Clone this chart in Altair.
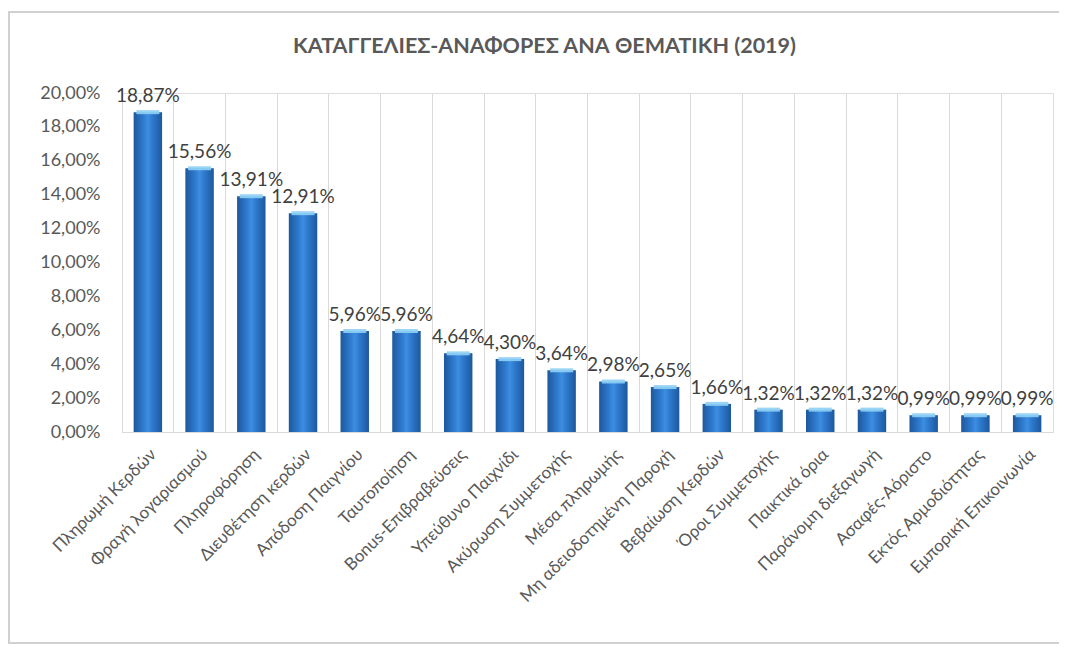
import altair as alt
import pandas as pd

categories = [
    "Πληρωμή Κερδών", "Φραγή λογαριασμού", "Πληροφόρηση", "Διευθέτηση κερδών",
    "Απόδοση Παιγνίου", "Ταυτοποίηση", "Bonus-Επιβραβεύσεις", "Υπεύθυνο Παιχνίδι",
    "Ακύρωση Συμμετοχής", "Μέσα πληρωμής", "Μη αδειοδοτημένη Παροχή", "Βεβαίωση Κερδών",
    "Όροι Συμμετοχής", "Παικτικά όρια", "Παράνομη διεξαγωγή", "Ασαφές-Αόριστο",
    "Εκτός Αρμοδιότητας", "Εμπορική Επικοινωνία",
]
values = [18.87, 15.56, 13.91, 12.91, 5.96, 5.96, 4.64, 4.30, 3.64, 2.98, 2.65,
          1.66, 1.32, 1.32, 1.32, 0.99, 0.99, 0.99]
y_ticks = [0, 2, 4, 6, 8, 10, 12, 14, 16, 18, 20]
title_text = ["ΚΑΤΑΓΓΕΛΙΕΣ-ΑΝΑΦΟΡΕΣ ΑΝΑ ΘΕΜΑΤΙΚΗ (2019)"]

df = pd.DataFrame({"cat": categories, "val": values})

W, H = 931, 339
FONT = "Lato"
fmt = "replace(format(datum.value, '.2f'), '.', ',') + '%'"

x_enc = alt.X(
    "cat:N", sort=categories, title=None,
    scale=alt.Scale(paddingInner=0, paddingOuter=0),
    axis=alt.Axis(labelAngle=-45, labelAlign="right", labelBaseline="top",
                  labelFont=FONT, labelFontSize=17, labelColor="#595959",
                  labelPadding=14, labelLimit=400, ticks=False, domain=True,
                  domainColor="#d9d9d9", grid=True, gridColor="#d9d9d9",
                  bandPosition=0, labelOverlap=False),
)
y_enc = alt.Y(
    "val:Q", title=None,
    scale=alt.Scale(domain=[0, 20], nice=False),
    axis=alt.Axis(values=y_ticks, labelExpr=fmt, labelFont=FONT,
                  labelFontSize=18, labelColor="#595959", ticks=False, domain=False,
                  grid=False, labelPadding=22, labelOverlap=False, labelFlush=False),
)

grad = alt.Gradient(
    gradient="linear", x1=0, x2=1, y1=0, y2=0,
    stops=[alt.GradientStop(color="#1d589c", offset=0),
           alt.GradientStop(color="#2f7bd0", offset=0.35),
           alt.GradientStop(color="#3c8ee0", offset=0.5),
           alt.GradientStop(color="#2f7bd0", offset=0.65),
           alt.GradientStop(color="#1d589c", offset=1)],
)

base = alt.Chart(df)

bars = base.mark_bar(width=alt.RelativeBandSize(0.55), color=grad).encode(x=x_enc, y=y_enc)

caps = base.mark_tick(color="#8fd0f5", thickness=4, size=23, opacity=0.9).encode(
    x=x_enc, y=y_enc
)

labels = base.transform_calculate(
    lbl="replace(format(datum.val, '.2f'), '.', ',') + '%'"
).mark_text(font=FONT, fontSize=19, color="#404040", baseline="bottom", dy=-6).encode(
    x=x_enc, y=y_enc, text="lbl:N"
)

one = pd.DataFrame({"t": title_text})

frame = alt.Chart(one).mark_rect(
    fill=None, stroke="#d0d0d0", strokeWidth=2, clip=False
).encode(
    x=alt.value(-113), x2=alt.value(W + 20), y=alt.value(-81), y2=alt.value(H + 211)
)

title = alt.Chart(one).mark_text(
    font=FONT, fontSize=21.5, fontWeight="bold", color="#595959",
    align="center", baseline="middle"
).encode(x=alt.value(W / 2 - 43), y=alt.value(-46), text="t:N")

chart = alt.layer(frame, bars, caps, labels, title).properties(
    width=W, height=H,
    autosize=alt.AutoSizeParams(type="none"),
    padding={"left": 114, "top": 85, "right": 6, "bottom": 215},
).configure_view(stroke=None).configure(background="white")

chart.save("out.html", embed_options={"renderer": "svg", "actions": False})
